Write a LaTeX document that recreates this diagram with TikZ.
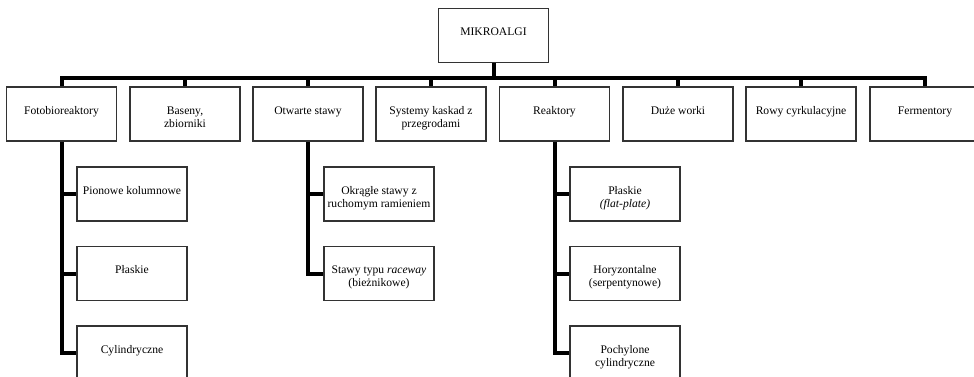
\documentclass[tikz,border=0pt]{standalone}
\usepackage{fontspec}
\setmainfont{Liberation Serif}
\definecolor{boxc}{HTML}{333333}
\newcommand{\boxtxt}[1]{\parbox[c][54pt][t]{110pt}{\centering\rule{0pt}{27pt}#1}}
\begin{document}
\begin{tikzpicture}[x=1pt,y=-1pt,
  box/.style={draw=boxc, line width=1.5pt, inner sep=0pt, minimum width=106pt, minimum height=54pt, font=\fontsize{11.6pt}{13.4pt}\selectfont},
  bar/.style={line width=4pt, black, line join=miter}]
\useasboundingbox (0,0) rectangle (974,376);
\fill[white] (0,0) rectangle (974,376);
% root
\node[box, minimum width=105pt, minimum height=53pt] (root) at (493.5,35.5) {\boxtxt{MIKROALGI}};
\coordinate (bus) at (0,78);
% level 1
\node[box, minimum width=107pt] (fb) at (61.5,114) {\boxtxt{Fotobioreaktory}};
\node[box] (bs) at (185,114) {\boxtxt{Baseny,\\zbiorniki}};
\node[box] (os) at (308,114) {\boxtxt{Otwarte stawy}};
\node[box] (sk) at (431,114) {\boxtxt{Systemy kaskad z\\przegrodami}};
\node[box] (re) at (554.5,114) {\boxtxt{Reaktory}};
\node[box] (dw) at (678,114) {\boxtxt{Duże worki}};
\node[box] (rc) at (801,114) {\boxtxt{Rowy cyrkulacyjne}};
\node[box] (fe) at (925,114) {\boxtxt{Fermentory}};
% children of Fotobioreaktory
\node[box] (fb1) at (132,194) {\boxtxt{Pionowe kolumnowe}};
\node[box] (fb2) at (132,273.5) {\boxtxt{Płaskie}};
\node[box] (fb3) at (132,353) {\boxtxt{Cylindryczne}};
% children of Otwarte stawy
\node[box] (os1) at (379,194) {\boxtxt{Okrągłe stawy z\\ruchomym ramieniem}};
\node[box] (os2) at (379,273.5) {\boxtxt{Stawy typu \textit{raceway}\\(bieżnikowe)}};
% children of Reaktory
\node[box] (re1) at (625,194) {\boxtxt{Płaskie\\\textit{(flat-plate)}}};
\node[box] (re2) at (625,273.5) {\boxtxt{Horyzontalne\\(serpentynowe)}};
\node[box] (re3) at (625,353) {\boxtxt{Pochylone\\cylindryczne}};
% connectors
\foreach \c in {fb,bs,os,sk,re,dw,rc,fe}
  \draw[bar] (root.south) -- (root.south |- bus) -| (\c.north);
\foreach \c in {fb1,fb2,fb3}
  \draw[bar] (fb.south) |- (\c.west);
\foreach \c in {os1,os2}
  \draw[bar] (os.south) |- (\c.west);
\foreach \c in {re1,re2,re3}
  \draw[bar] (re.south) |- (\c.west);
\end{tikzpicture}
\end{document}
